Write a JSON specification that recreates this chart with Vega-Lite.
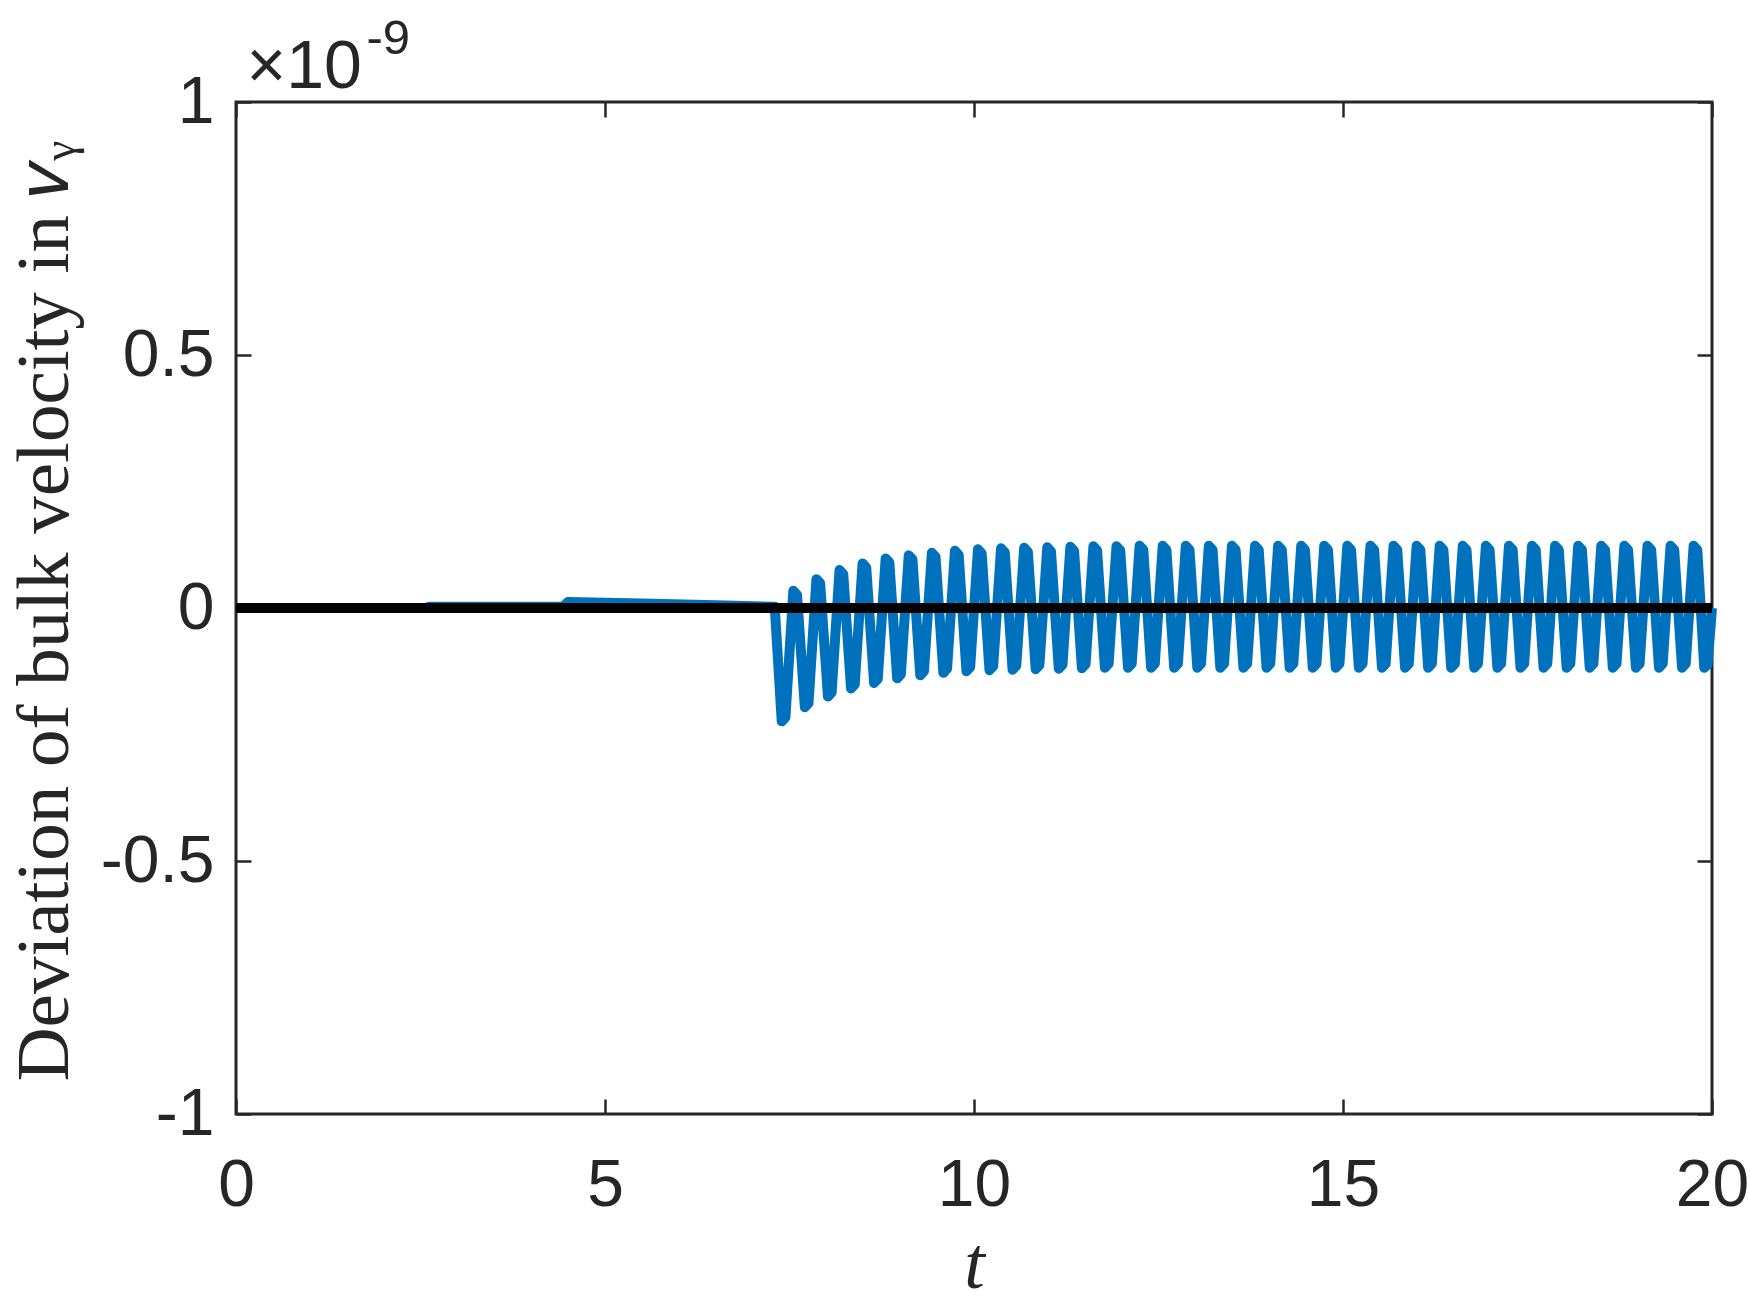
{
  "$schema": "https://vega.github.io/schema/vega-lite/v6.json",
  "autosize": "none",
  "width": 1476,
  "height": 1012,
  "padding": {"left": 236, "top": 102, "right": 38, "bottom": 199},
  "background": "white",
  "config": {
    "view": {"stroke": "#262626", "strokeWidth": 3},
    "axis": {"grid": false, "domain": false, "tickColor": "#262626", "tickWidth": 2.5, "tickSize": -15,
      "labelFont": "Liberation Sans", "labelFontSize": 66, "labelColor": "#262626", "titleColor": "#262626"}
  },
  "datasets": {
    "blue": [
      {"t":0,"v":0},{"t":2.55,"v":0},{"t":2.62,"v":0.0024},{"t":4.43,"v":0.0024},{"t":4.5,"v":0.012},{"t":5.5,"v":0.009},{"t":6.5,"v":0.0055},{"t":7.3,"v":0.0024},
      {"t":7.395,"v":-0.224},{"t":7.445,"v":-0.216},
      {"t":7.552,"v":0.034},{"t":7.602,"v":0.026},{"t":7.708,"v":-0.196},{"t":7.758,"v":-0.188},
      {"t":7.865,"v":0.057},{"t":7.915,"v":0.049},{"t":8.021,"v":-0.175},{"t":8.071,"v":-0.167},
      {"t":8.178,"v":0.075},{"t":8.228,"v":0.067},{"t":8.334,"v":-0.159},{"t":8.384,"v":-0.151},
      {"t":8.490,"v":0.088},{"t":8.540,"v":0.080},{"t":8.646,"v":-0.148},{"t":8.696,"v":-0.140},
      {"t":8.803,"v":0.098},{"t":8.853,"v":0.090},{"t":8.959,"v":-0.139},{"t":9.009,"v":-0.131},
      {"t":9.116,"v":0.104},{"t":9.166,"v":0.096},{"t":9.272,"v":-0.133},{"t":9.322,"v":-0.125},
      {"t":9.429,"v":0.109},{"t":9.479,"v":0.101},{"t":9.585,"v":-0.128},{"t":9.635,"v":-0.120},
      {"t":9.742,"v":0.113},{"t":9.792,"v":0.105},{"t":9.898,"v":-0.125},{"t":9.948,"v":-0.117},
      {"t":10.054,"v":0.116},{"t":10.104,"v":0.108},{"t":10.210,"v":-0.123},{"t":10.260,"v":-0.115},
      {"t":10.367,"v":0.118},{"t":10.417,"v":0.110},{"t":10.523,"v":-0.122},{"t":10.573,"v":-0.114},
      {"t":10.680,"v":0.119},{"t":10.730,"v":0.111},{"t":10.836,"v":-0.121},{"t":10.886,"v":-0.113},
      {"t":10.993,"v":0.120},{"t":11.043,"v":0.112},{"t":11.149,"v":-0.120},{"t":11.199,"v":-0.112},
      {"t":11.306,"v":0.121},{"t":11.356,"v":0.113},{"t":11.462,"v":-0.119},{"t":11.512,"v":-0.111},
      {"t":11.618,"v":0.122},{"t":11.668,"v":0.114},{"t":11.774,"v":-0.118},{"t":11.824,"v":-0.110},
      {"t":11.931,"v":0.122},{"t":11.981,"v":0.114},{"t":12.087,"v":-0.118},{"t":12.137,"v":-0.110},
      {"t":12.244,"v":0.123},{"t":12.294,"v":0.115},{"t":12.400,"v":-0.118},{"t":12.450,"v":-0.110},
      {"t":12.557,"v":0.123},{"t":12.607,"v":0.115},{"t":12.713,"v":-0.118},{"t":12.763,"v":-0.110},
      {"t":12.870,"v":0.123},{"t":12.920,"v":0.115},{"t":13.026,"v":-0.118},{"t":13.076,"v":-0.110},
      {"t":13.182,"v":0.123},{"t":13.232,"v":0.115},{"t":13.338,"v":-0.118},{"t":13.388,"v":-0.110},
      {"t":13.495,"v":0.123},{"t":13.545,"v":0.115},{"t":13.651,"v":-0.118},{"t":13.701,"v":-0.110},
      {"t":13.808,"v":0.123},{"t":13.858,"v":0.115},{"t":13.964,"v":-0.118},{"t":14.014,"v":-0.110},
      {"t":14.121,"v":0.123},{"t":14.171,"v":0.115},{"t":14.277,"v":-0.118},{"t":14.327,"v":-0.110},
      {"t":14.434,"v":0.123},{"t":14.484,"v":0.115},{"t":14.590,"v":-0.118},{"t":14.640,"v":-0.110},
      {"t":14.746,"v":0.123},{"t":14.796,"v":0.115},{"t":14.902,"v":-0.118},{"t":14.952,"v":-0.110},
      {"t":15.059,"v":0.123},{"t":15.109,"v":0.115},{"t":15.215,"v":-0.118},{"t":15.265,"v":-0.110},
      {"t":15.372,"v":0.123},{"t":15.422,"v":0.115},{"t":15.528,"v":-0.118},{"t":15.578,"v":-0.110},
      {"t":15.685,"v":0.123},{"t":15.735,"v":0.115},{"t":15.841,"v":-0.118},{"t":15.891,"v":-0.110},
      {"t":15.998,"v":0.123},{"t":16.048,"v":0.115},{"t":16.154,"v":-0.118},{"t":16.204,"v":-0.110},
      {"t":16.310,"v":0.123},{"t":16.360,"v":0.115},{"t":16.466,"v":-0.118},{"t":16.516,"v":-0.110},
      {"t":16.623,"v":0.123},{"t":16.673,"v":0.115},{"t":16.779,"v":-0.118},{"t":16.829,"v":-0.110},
      {"t":16.936,"v":0.123},{"t":16.986,"v":0.115},{"t":17.092,"v":-0.118},{"t":17.142,"v":-0.110},
      {"t":17.249,"v":0.123},{"t":17.299,"v":0.115},{"t":17.405,"v":-0.118},{"t":17.455,"v":-0.110},
      {"t":17.562,"v":0.123},{"t":17.612,"v":0.115},{"t":17.718,"v":-0.118},{"t":17.768,"v":-0.110},
      {"t":17.874,"v":0.123},{"t":17.924,"v":0.115},{"t":18.030,"v":-0.118},{"t":18.080,"v":-0.110},
      {"t":18.187,"v":0.123},{"t":18.237,"v":0.115},{"t":18.343,"v":-0.118},{"t":18.393,"v":-0.110},
      {"t":18.500,"v":0.123},{"t":18.550,"v":0.115},{"t":18.656,"v":-0.118},{"t":18.706,"v":-0.110},
      {"t":18.813,"v":0.123},{"t":18.863,"v":0.115},{"t":18.969,"v":-0.118},{"t":19.019,"v":-0.110},
      {"t":19.126,"v":0.123},{"t":19.176,"v":0.115},{"t":19.282,"v":-0.118},{"t":19.332,"v":-0.110},
      {"t":19.438,"v":0.123},{"t":19.488,"v":0.115},{"t":19.594,"v":-0.118},{"t":19.644,"v":-0.110},
      {"t":19.751,"v":0.123},{"t":19.801,"v":0.115},{"t":19.895,"v":-0.118},{"t":19.94,"v":-0.112},
      {"t":20,"v":0}
    ],
    "zero": [{"t":0,"v":0},{"t":20,"v":0}]
  },
  "layer": [
    {
      "data": {"name": "blue"},
      "mark": {"type": "line", "color": "#0072BD", "strokeWidth": 10, "strokeJoin": "round", "strokeCap": "butt"},
      "encoding": {
        "x": {"field": "t", "type": "quantitative", "scale": {"domain": [0, 20], "nice": false, "zero": false},
          "axis": {"orient": "bottom", "values": [0, 5, 10, 15, 20], "labelFlush": false, "labelOverlap": false,
            "labelPadding": 54, "labelExpr": "'' + datum.value",
            "title": "t", "titleFont": "Liberation Serif", "titleFontStyle": "italic", "titleFontWeight": "normal",
            "titleFontSize": 74, "titleX": 738, "titleY": 173, "titleBaseline": "alphabetic", "titleAlign": "center"}},
        "y": {"field": "v", "type": "quantitative", "scale": {"domain": [-1, 1], "nice": false},
          "axis": {"orient": "left", "values": [-1, -0.5, 0, 0.5, 1], "labelFlush": false, "labelOverlap": false,
            "labelPadding": 37, "labelExpr": "'' + datum.value",
            "title": "Deviation of bulk velocity in 𝑣ᵧ", "titleFont": "Liberation Serif", "titleFontWeight": "normal",
            "titleFontSize": 75, "titleAngle": 270, "titleX": -169, "titleY": 509, "titleBaseline": "alphabetic", "titleAlign": "center"}}
      }
    },
    {
      "data": {"name": "zero"},
      "mark": {"type": "line", "color": "#000000", "strokeWidth": 10},
      "encoding": {
        "x": {"field": "t", "type": "quantitative",
          "axis": {"orient": "top", "values": [0, 5, 10, 15, 20], "labels": false,
            "title": "-9", "titleFont": "Liberation Sans", "titleFontWeight": "normal", "titleFontSize": 49,
            "titleAngle": 0, "titleX": 130, "titleY": -49, "titleBaseline": "alphabetic", "titleAlign": "left"}},
        "y": {"field": "v", "type": "quantitative",
          "axis": {"orient": "right", "values": [-1, -0.5, 0, 0.5, 1], "labels": false,
            "title": "×10", "titleFont": "Liberation Sans", "titleFontWeight": "normal", "titleFontSize": 68,
            "titleAngle": 0, "titleX": -1466, "titleY": -15, "titleBaseline": "alphabetic", "titleAlign": "left"}}
      }
    }
  ],
  "resolve": {"axis": {"x": "independent", "y": "independent"}}
}
